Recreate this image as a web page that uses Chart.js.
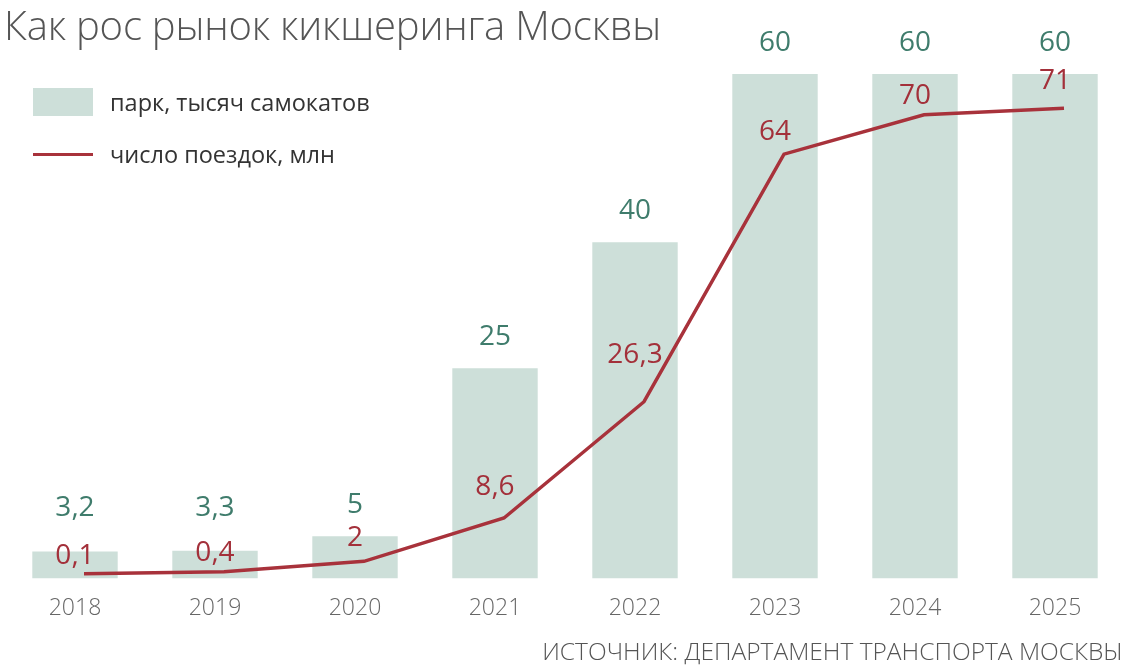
<!DOCTYPE html>
<html lang="ru">
<head>
<meta charset="utf-8">
<title>Как рос рынок кикшеринга Москвы</title>
<script src="https://cdn.jsdelivr.net/npm/chart.js@4.4.1/dist/chart.umd.min.js"></script>
<style>
  html, body { margin: 0; padding: 0; background: #fff; }
  #wrap { position: relative; width: 1137px; height: 672px; overflow: hidden; }
  #c { position: absolute; left: 0; top: 0; }
  #title {
    position: absolute; left: 4px; top: 0px;
    font: 300 40px "Open Sans", sans-serif; color: #555; line-height: 50px;
    white-space: nowrap; letter-spacing: -0.2px;
  }
  #legend { position: absolute; left: 33px; top: 86px; }
  .item { display: flex; align-items: center; height: 32px; margin-bottom: 20px;
    font: 400 23.5px "Open Sans", sans-serif; color: #333; }
  .swatch { width: 60px; margin-right: 17px; }
  #source {
    position: absolute; right: 14px; top: 634px;
    font: 300 24.5px "Open Sans", sans-serif; color: #555; white-space: nowrap;
  }
</style>
</head>
<body>
<div id="wrap">
  <canvas id="c" width="1137" height="672"></canvas>
  <div id="title">Как рос рынок кикшеринга Москвы</div>
  <div id="legend"></div>
  <div id="source">ИСТОЧНИК: ДЕПАРТАМЕНТ ТРАНСПОРТА МОСКВЫ</div>
</div>
<script>
// data
const years = ["2018", "2019", "2020", "2021", "2022", "2023", "2024", "2025"]
const fleetThousands = [3.2, 3.3, 5, 25, 40, 60, 60, 60]
const ridesMillions = [0.1, 0.4, 2, 8.6, 26.3, 64, 70, 71]
const fleetLabel = "парк, тысяч самокатов"
const ridesLabel = "число поездок, млн"

const barColor = "#cddfd9"
const barText = "#3f7c6c"
const lineColor = "#a8323b"
const lineText = "#a3303a"

const fmt = (v) => String(v).replace(".", ",")

// the red line sits a bit right of the bar centres in the original
const LINE_SHIFT = 9

const shiftLine = {
  id: "shiftLine",
  beforeDatasetDraw(chart, args) {
    if (chart.data.datasets[args.index].type === "line") {
      chart.ctx.save()
      chart.ctx.translate(LINE_SHIFT, 0)
    }
  },
  afterDatasetDraw(chart, args) {
    if (chart.data.datasets[args.index].type === "line") chart.ctx.restore()
  },
}

// value labels above bars and line points
const valueLabels = {
  id: "valueLabels",
  afterDatasetsDraw(chart) {
    const ctx = chart.ctx
    const bars = chart.getDatasetMeta(0).data
    const pts = chart.getDatasetMeta(1).data
    ctx.save()
    ctx.textAlign = "center"
    ctx.textBaseline = "middle"
    ctx.font = '500 28px "Open Sans", sans-serif'

    ctx.fillStyle = barText
    bars.forEach((b, i) => {
      const y = Math.min(b.y - 31, 508)
      ctx.fillText(fmt(fleetThousands[i]), b.x, y)
    })

    ctx.fillStyle = lineText
    pts.forEach((p, i) => {
      const next = ridesMillions[i + 1]
      let off = 18
      if (next !== undefined && next > ridesMillions[i]) off += (next - ridesMillions[i]) * 0.75
      if (next === undefined) off = 27
      off = Math.max(off, 17)
      ctx.fillText(fmt(ridesMillions[i]), bars[i].x, p.y - off)
    })
    ctx.restore()
  },
}

const chart = new Chart(document.getElementById("c"), {
  data: {
    labels: years,
    datasets: [
      {
        type: "bar",
        label: fleetLabel,
        data: fleetThousands,
        backgroundColor: barColor,
        barPercentage: 1,
        categoryPercentage: 0.61,
        yAxisID: "y",
        order: 1,
      },
      {
        type: "line",
        label: ridesLabel,
        data: ridesMillions,
        borderColor: lineColor,
        borderWidth: 3.5,
        pointRadius: 0,
        tension: 0,
        yAxisID: "y2",
        order: 0,
      },
    ],
  },
  options: {
    responsive: false,
    animation: false,
    devicePixelRatio: 1,
    layout: { padding: { top: 74, left: 5, right: 12, bottom: 42 } },
    plugins: {
      legend: { display: false }, // html legend instead
      tooltip: { enabled: false },
    },
    scales: {
      x: {
        grid: { display: false },
        border: { display: false },
        ticks: {
          color: "#666",
          padding: 8,
          font: { family: "Open Sans", size: 23, weight: "300" },
        },
      },
      y: { display: false, min: 0, max: 60 },
      y2: { display: false, min: -0.6, max: 76.2 },
    },
  },
  plugins: [shiftLine, valueLabels],
})

// legend built from the datasets
const legend = document.getElementById("legend")
chart.data.datasets.forEach((ds) => {
  const item = document.createElement("div")
  item.className = "item"
  const sw = document.createElement("span")
  sw.className = "swatch"
  if (ds.type === "bar") {
    sw.style.height = "28px"
    sw.style.background = ds.backgroundColor
  } else {
    sw.style.height = "3px"
    sw.style.background = ds.borderColor
  }
  item.appendChild(sw)
  item.appendChild(document.createTextNode(ds.label))
  legend.appendChild(item)
})
</script>
</body>
</html>
